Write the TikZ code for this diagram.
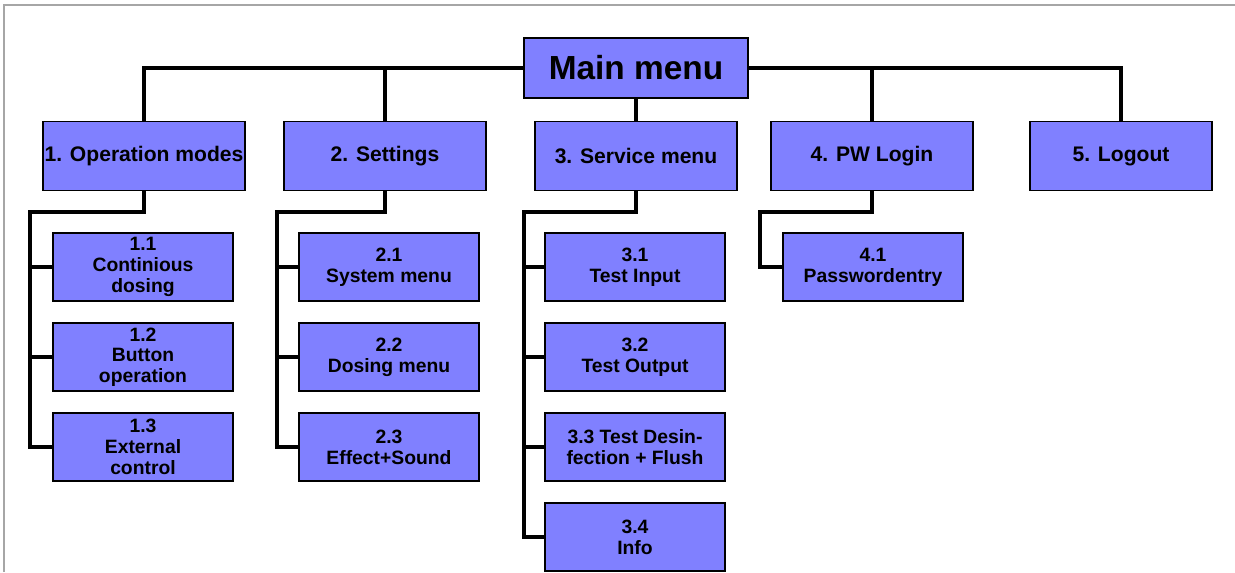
\documentclass[tikz,border=0pt]{standalone}
\usepackage{fontspec}
\setmainfont{Liberation Sans}
\usetikzlibrary{calc}
\definecolor{boxblue}{RGB}{128,128,255}

\begin{document}
\begin{tikzpicture}[x=0.02cm, y=-0.02cm,
    menubox/.style ={rectangle, draw, line width=1.1pt, fill=boxblue, align=center, inner sep=0pt},
    topbox/.style ={menubox, minimum width=4.48cm, minimum height=1.2cm, font=\fontsize{19}{22}\selectfont\bfseries},
    groupbox/.style ={menubox, minimum width=4.04cm, minimum height=1.38cm, font=\fontsize{12}{14}\selectfont\bfseries},
    itembox/.style ={menubox, minimum width=3.6cm, minimum height=1.36cm, font=\fontsize{11}{11.8}\selectfont\bfseries},
    link/.style ={line width=2.3pt}]
   \useasboundingbox (0,0) rectangle (1235,572);
   \draw[gray!70, line width=0.6pt] (4,572) -- (4,5) -- (1235,5);

   \node[topbox] (main) at (636,68) {Main menu};

   \node[groupbox] (m1) at (144,156) {1. Operation modes};
   \node[groupbox] (m2) at (385,156) {2. Settings};
   \node[groupbox] (m3) at (636,156) {3. Service menu};
   \node[groupbox] (m4) at (872,156) {4. PW Login};
   \node[groupbox, minimum width=3.64cm] (m5) at (1121,156) {5. Logout};

   \node[itembox] (m11) at (143,267) {1.1\\Continious\\dosing};
   \node[itembox] (m12) at (143,357) {1.2\\Button\\operation};
   \node[itembox] (m13) at (143,447) {1.3\\External\\control};

   \node[itembox] (m21) at (389,267) {2.1\\System menu};
   \node[itembox] (m22) at (389,357) {2.2\\Dosing menu};
   \node[itembox] (m23) at (389,447) {2.3\\Effect+Sound};

   \node[itembox] (m31) at (635,267) {3.1\\Test Input};
   \node[itembox] (m32) at (635,357) {3.2\\Test Output};
   \node[itembox] (m33) at (635,447) {3.3 Test Desin-\\fection + Flush};
   \node[itembox] (m34) at (635,537) {3.4\\Info};

   \node[itembox] (m41) at (873,267) {4.1\\Passwordentry};

   \coordinate (t1) at (30,212);
   \coordinate (t2) at (277,212);
   \coordinate (t3) at (524,212);
   \coordinate (t4) at (760,212);

   \draw[link] (main.west) -| (m1.north);
   \draw[link] (main.west) -| (m2.north);
   \draw[link] (main.south) -- (m3.north);
   \draw[link] (main.east) -| (m4.north);
   \draw[link] (main.east) -| (m5.north);

   \draw[link] (m1.south) |- (t1) |- (m13.west);
   \foreach \s in {m11,m12}
      \draw[link] (t1 |- \s.west) -- (\s.west);

   \draw[link] (m2.south) |- (t2) |- (m23.west);
   \foreach \s in {m21,m22}
      \draw[link] (t2 |- \s.west) -- (\s.west);

   \draw[link] (m3.south) |- (t3) |- (m34.west);
   \foreach \s in {m31,m32,m33}
      \draw[link] (t3 |- \s.west) -- (\s.west);

   \draw[link] (m4.south) |- (t4) |- (m41.west);
 \end{tikzpicture}
\end{document}
